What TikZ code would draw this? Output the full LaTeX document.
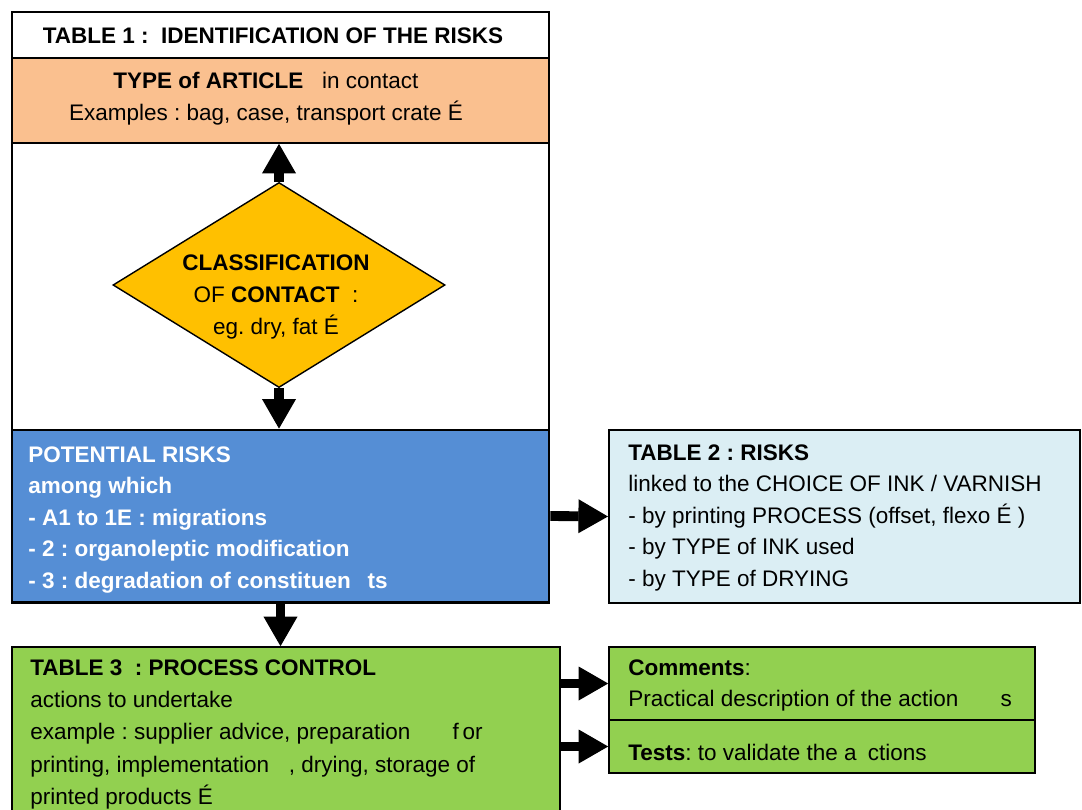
\documentclass[tikz,border=0pt]{standalone}
\usepackage{fontspec}
\setmainfont{Liberation Sans}
\usepackage{xcolor}
\usetikzlibrary{arrows.meta,positioning,shapes.geometric,fit}

\definecolor{peach}{RGB}{250,192,143}
\definecolor{amber}{RGB}{255,192,0}
\definecolor{riskblue}{RGB}{85,142,213}
\definecolor{paleblue}{RGB}{219,238,244}
\definecolor{leafgreen}{RGB}{146,208,80}
\frenchspacing

\begin{document}
\begin{tikzpicture}[x=0.025cm, y=-0.025cm,
  box/.style={draw, inner sep=0, line width=1.2pt},
  txt/.style={font=\fontsize{16}{22.5}\selectfont, inner sep=0, align=left, anchor=north west},
  boldtxt/.style={txt, font=\fontsize{16}{22.5}\selectfont\bfseries},
  bigarrow/.style={line width=7pt, -{Triangle[length=21pt, width=24pt, line width=0.8pt]}}]

\useasboundingbox (0,0) rectangle (1082,809);

% Table 1 frame
\node[box, line width=2pt, fit={(12,12) (549,603)}] (frame) {};
\node[box, line width=2pt, fit={(12,12) (549,58)}] (title) {};
\node[boldtxt, anchor=center] (titletext) at (273,36) {TABLE 1 :\ \ IDENTIFICATION OF THE RISKS};

% Type of article
\node[box, fill=peach, fit={(12,58) (549,143)}] (article) {};
\node[txt, align=center, anchor=center] (articletext) at (266,99)
  {\textbf{TYPE of ARTICLE}\ \ \ in contact\\Examples : bag, case, transport crate É};

% Classification of contact
\node[diamond, draw, fill=amber, aspect=1.6, inner sep=0, line width=1pt,
  minimum width=8.3cm, minimum height=5.125cm] (contact) at (279,285) {};
\node[txt, align=center, anchor=center] (contacttext) at (276,297)
  {\textbf{CLASSIFICATION}\\OF \textbf{CONTACT}\ \ :\\eg. dry, fat É};

% Potential risks
\node[box, line width=2pt, fill=riskblue, fit={(12,430) (549,602)}] (risks) {};
\node[boldtxt, text=white] (riskstext) at (28,446)
  {POTENTIAL RISKS\\among which\\- A1 to 1E : migrations\\- 2 : organoleptic modification\\- 3 : degradation of constituen\hspace{12pt}ts};

% Table 2
\node[box, line width=1.5pt, fill=paleblue, fit={(609,430) (1080,603)}] (table2) {};
\node[txt] (table2text) at (628,444)
  {\textbf{TABLE 2 : RISKS}\\linked to the CHOICE OF INK / VARNISH\\- by printing PROCESS (offset, flexo É )\\- by TYPE of INK used\\- by TYPE of DRYING};

% Table 3
\node[box, fill=leafgreen, fit={(12,647) (560,830)}] (table3) {};
\node[txt, font=\fontsize{16}{23}\selectfont] (table3text) at (30,659)
  {\textbf{TABLE 3\ \ : PROCESS CONTROL}\\actions to undertake\\example : supplier advice, preparation\hspace{30pt}f\,or\\printing, implementation\hspace{14pt}, drying, storage of\\printed products É};

% Comments and tests
\node[box, fill=leafgreen, fit={(609,647) (1035,720)}] (comments) {};
\node[box, fill=leafgreen, fit={(609,720) (1035,773)}] (tests) {};
\node[txt] (commentstext) at (628,659)
  {\textbf{Comments}:\\Practical description of the action\hspace{30pt}s};
\node[txt, anchor=west] (teststext) at (628,752) {\textbf{Tests}: to validate the a\hspace{8pt}ctions};

% Arrows
\draw[bigarrow] (contact.north) -- (contact.north |- article.south);
\draw[bigarrow] (contact.south) -- (contact.south |- risks.north);
\draw[bigarrow] (risks.east) -- (table2.west);
\draw[bigarrow] (risks.south) -- (risks.south |- table3.north);
\draw[bigarrow] (table3.east |- comments.west) -- (comments.west);
\draw[bigarrow] (table3.east |- tests.west) -- (tests.west);

\end{tikzpicture}
\end{document}
